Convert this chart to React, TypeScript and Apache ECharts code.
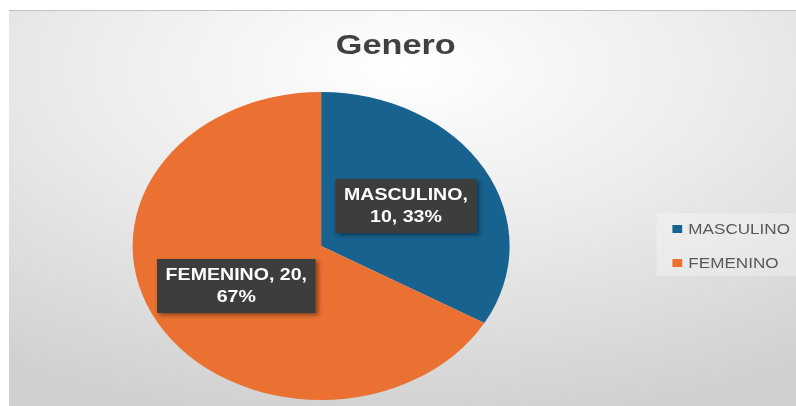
import React, { useEffect, useRef } from "react";
import * as echarts from "echarts";

const titleText = "Genero";
const categories = ["MASCULINO", "FEMENINO"];
const values = [10, 20];
const sliceColors = ["#17628e", "#ea7131"];
// where each label wraps onto its second line
const labelBreakAfter = ["name", "value"];

const STRETCH_X = 1.224;
const BASE_W = 643;
const BASE_H = 396;

export default function App() {
  const ref = useRef<HTMLDivElement>(null);

  useEffect(() => {
    document.body.style.overflow = "hidden";
    const chart = echarts.init(ref.current!, null, { renderer: "svg" });
    chart.setOption({
      animation: false,
      backgroundColor: {
        type: "radial",
        x: 0.5,
        y: 0.15,
        r: 0.9,
        colorStops: [
          { offset: 0, color: "#ffffff" },
          { offset: 0.45, color: "#ececec" },
          { offset: 1, color: "#d0d0d0" },
        ],
      },
      title: {
        text: titleText,
        left: 262,
        top: 16,
        textStyle: {
          fontFamily: "Liberation Sans",
          fontSize: 28,
          fontWeight: "bold",
          color: "#404040",
        },
      },
      legend: {
        orient: "vertical",
        left: 529,
        top: 203,
        padding: [9, 12, 6, 13],
        backgroundColor: "rgba(255,255,255,0.3)",
        itemWidth: 8,
        itemHeight: 8,
        itemGap: 20,
        icon: "rect",
        data: categories,
        textStyle: {
          fontFamily: "Liberation Sans",
          fontSize: 14,
          color: "#595959",
        },
      },
      series: [
        {
          type: "pie",
          center: [255, 236],
          radius: 154,
          startAngle: 90,
          clockwise: true,
          percentPrecision: 0,
          itemStyle: { borderWidth: 0 },
          label: {
            show: true,
            position: "inside",
            color: "#ffffff",
            fontFamily: "Liberation Sans",
            fontWeight: "bold",
            fontSize: 16,
            lineHeight: 22,
            backgroundColor: "#3d3d3d",
            padding: [5, 7],
            shadowColor: "rgba(0,0,0,0.45)",
            shadowBlur: 4,
            shadowOffsetX: 2,
            shadowOffsetY: 2,
            formatter: (p: any) => {
              const brk = labelBreakAfter[p.dataIndex];
              return brk === "name"
                ? `${p.name},\n${p.value}, ${p.percent}%`
                : `${p.name}, ${p.value},\n${p.percent}%`;
            },
          },
          labelLine: { show: false },
          emphasis: { disabled: true },
          data: categories.map((name, i) => ({
            name,
            value: values[i],
            itemStyle: { color: sliceColors[i] },
          })),
        },
      ],
    });
    return () => chart.dispose();
  }, []);

  return (
    <>
      <div
        style={{
          position: "absolute",
          left: 9,
          top: 10,
          width: 787,
          height: 1,
          background: "#c2c2c2",
          zIndex: 2,
        }}
      />
      <div
        ref={ref}
        style={{
          position: "absolute",
          left: 9,
          top: 10,
          width: BASE_W,
          height: BASE_H,
          transform: `scaleX(${STRETCH_X})`,
          transformOrigin: "0 0",
        }}
      />
    </>
  );
}
